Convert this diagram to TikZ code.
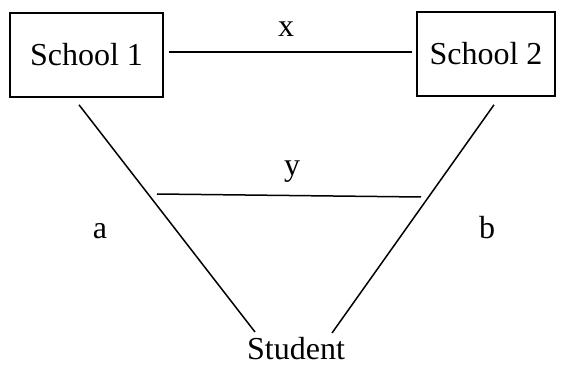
\documentclass[tikz,border=0pt]{standalone}
\usepackage{fontspec}
\setmainfont{Liberation Serif}
\begin{document}
\begin{tikzpicture}[x=1pt,y=-1pt,
  every node/.style={font=\fontsize{32}{36}\selectfont, inner sep=0pt},
  school/.style={draw, line width=1.6pt, minimum height=84pt},
  link/.style={line width=1.5pt},
  lbl/.style={anchor=base}]
\useasboundingbox (0,0) rectangle (562,366);
\node[school, minimum width=153pt] (s1) at (86.5,55) {School 1};
\node[school, minimum width=138pt] (s2) at (486,54) {School 2};
\node[lbl] (st) at (296,359) {Student};
\node[lbl] (lx) at (286,37) {x};
\node[lbl] (ly) at (292,176) {y};
\node[lbl] (la) at (100,238) {a};
\node[lbl] (lb) at (487,238) {b};
\coordinate (ya) at (157,194);
\coordinate (yb) at (421,197);
\draw[link] ([shift={(5pt,3pt)}]s1.east) -- ([shift={(-4pt,2pt)}]s2.west);
\draw[link] ([shift={(-7.5pt,-7pt)}]s1.south) -- ([shift={(-41pt,27pt)}]st.base);
\draw[link] ([shift={(8pt,-8pt)}]s2.south) -- ([shift={(36pt,26pt)}]st.base);
\draw[link] (ya) -- (yb);
\end{tikzpicture}
\end{document}
